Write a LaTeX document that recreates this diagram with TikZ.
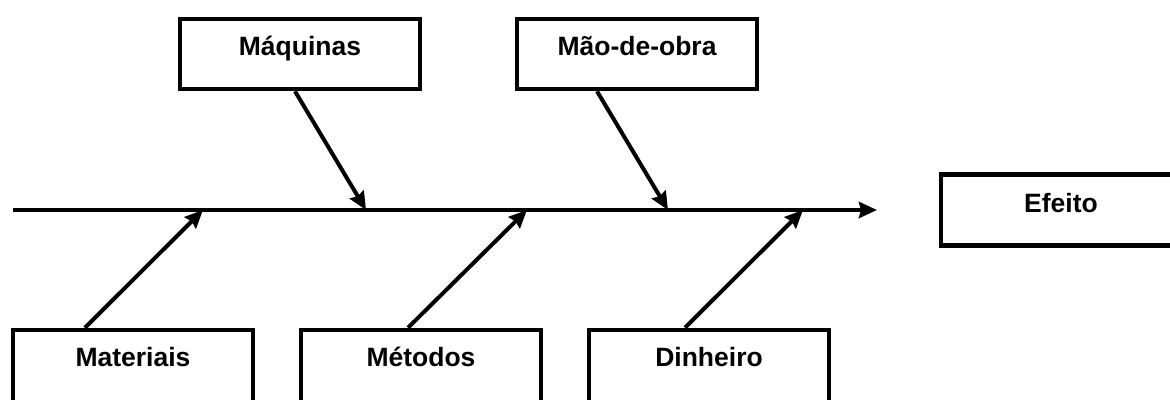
\documentclass[tikz,border=0pt]{standalone}
\usepackage{fontspec}
\setmainfont{Liberation Sans}
\usetikzlibrary{arrows.meta,calc}
\begin{document}
\begin{tikzpicture}[x=1pt,y=-1pt,
        causebox/.style={draw,line width=4.5pt,minimum width=240pt,inner ysep=0pt,
            text height=36pt,text depth=34pt,font=\bfseries\fontsize{26.5}{30}\selectfont},
        bone/.style={line width=4pt,-{Stealth[length=18pt,width=16pt,inset=2pt]}}]
        \clip (0,0) rectangle (1170,399);
        \useasboundingbox (0,0) rectangle (1170,399);
        % boxes
        \node[causebox] (maq) at (300,54) {Máquinas};
        \node[causebox] (mao) at (637,54) {Mão-de-obra};
        \node[causebox,text depth=40pt] (mat) at (133,368) {Materiais};
        \node[causebox,text depth=40pt] (met) at (421,368) {Métodos};
        \node[causebox,text depth=40pt] (din) at (709,368) {Dinheiro};
        \node[causebox,text height=38pt,text depth=33pt] (efe) at (1061,210) {Efeito};
        % spine
        \coordinate (tail) at (13,210);
        \coordinate (head) at (877,210);
        \coordinate (jmat) at (203,210);
        \coordinate (jmaq) at (366,210);
        \coordinate (jmet) at (527,210);
        \coordinate (jmao) at (668,210);
        \coordinate (jdin) at (803,210);
        \draw[bone] (tail) -- (head);
        % causes
        \draw[bone] ($(maq.south)+(-5,0)$) -- (jmaq);
        \draw[bone] ($(mao.south)+(-40,0)$) -- (jmao);
        \draw[bone] ($(mat.north)+(-48,0)$) -- (jmat);
        \draw[bone] ($(met.north)+(-13,0)$) -- (jmet);
        \draw[bone] ($(din.north)+(-24,0)$) -- (jdin);
    \end{tikzpicture}
\end{document}
